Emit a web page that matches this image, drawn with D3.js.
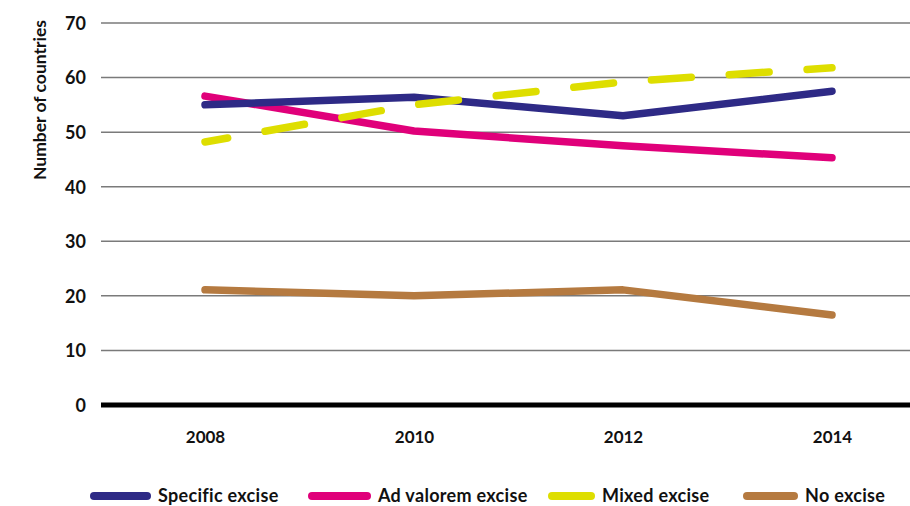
<!DOCTYPE html>
<html><head><meta charset="utf-8">
<script src="https://cdn.jsdelivr.net/npm/d3@7"></script>
<style>body{margin:0;background:#fff}</style></head>
<body><svg id="c" width="910" height="506"></svg>
<script>
const years = ["2008","2010","2012","2014"];
const specificExcise = [55.0, 56.4, 53.0, 57.5];
const adValoremExcise = [56.6, 50.2, 47.5, 45.3];
const mixedExcise = [48.2, 55.0, 59.2, 61.8];
const noExcise = [21.1, 20.0, 21.1, 16.5];
const yTicks = [0,10,20,30,40,50,60,70];
const seriesNames = ["Specific excise","Ad valorem excise","Mixed excise","No excise"];
const seriesColors = ["#2e2a86","#e0007a","#dede00","#b57a40"];

const font = "Lato,'Open Sans',sans-serif";
const svg = d3.select("#c");
const x = d3.scalePoint().domain(years).range([205, 832]);
const y = d3.scaleLinear().domain([0,70]).range([405, 23]);

// gridlines
svg.append("g").selectAll("line").data(yTicks.filter(d=>d>0)).join("line")
  .attr("x1",101).attr("x2",910).attr("y1",d=>y(d)).attr("y2",d=>y(d))
  .attr("stroke","#7a7a7a").attr("stroke-width",1.5);
svg.append("line").attr("x1",101).attr("x2",910).attr("y1",y(0)).attr("y2",y(0))
  .attr("stroke","#000").attr("stroke-width",5);

// y labels
const yAxis = d3.axisLeft(y).tickValues(yTicks).tickSize(0).tickPadding(0);
const gy = svg.append("g").attr("transform","translate(86,0)").call(yAxis);
gy.select(".domain").remove();
gy.selectAll("text").attr("font-family",font).attr("font-weight","bold")
  .attr("font-size",18).attr("fill","#111").attr("dy","0.35em");

// x labels
const xAxis = d3.axisBottom(x).tickSize(0).tickPadding(0);
const gx = svg.append("g").attr("transform","translate(0,431)").call(xAxis);
gx.select(".domain").remove();
gx.selectAll("text").attr("font-family",font).attr("font-weight","bold")
  .attr("font-size",17).attr("fill","#111").attr("dy","0.71em");

// y title
svg.append("text").attr("transform","translate(46,100) rotate(-90)")
  .attr("text-anchor","middle").attr("font-family",font).attr("font-weight","bold")
  .attr("font-size",17.5).attr("fill","#111").text("Number of countries");

const line = d3.line().x((d,i)=>x(years[i])).y(d=>y(d));
const data = [specificExcise, adValoremExcise, mixedExcise, noExcise];
const order = [3,1,0,2];
order.forEach(k=>{
  const p = svg.append("path").attr("d",line(data[k])).attr("fill","none")
    .attr("stroke",seriesColors[k]).attr("stroke-width",7.5)
    .attr("stroke-linecap","round").attr("stroke-linejoin","round");
  if (k===2) p.attr("stroke-dasharray","40,38").attr("stroke-dashoffset",17);
});

// legend
const legX = [94, 312, 552, 747];
const legW = [53, 55, 39, 47];
const lg = svg.append("g");
seriesNames.forEach((n,i)=>{
  lg.append("line").attr("x1",legX[i]).attr("x2",legX[i]+legW[i]).attr("y1",496).attr("y2",496)
    .attr("stroke",seriesColors[i]).attr("stroke-width",8).attr("stroke-linecap","round");
  lg.append("text").attr("x",legX[i]+legW[i]+11).attr("y",496).attr("dy","0.35em")
    .attr("font-family",font).attr("font-weight","bold").attr("font-size",18)
    .attr("letter-spacing",0.3).attr("fill","#111").text(n);
});
</script></body></html>
